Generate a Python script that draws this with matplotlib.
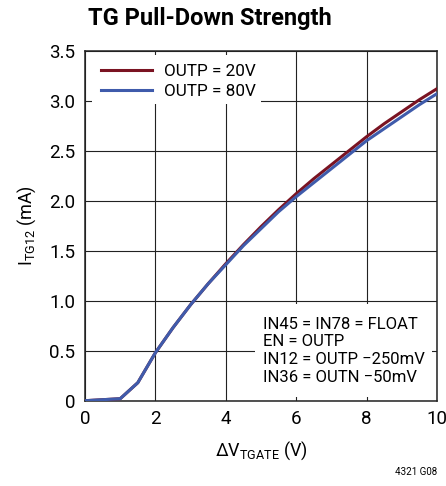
import numpy as np
import matplotlib
matplotlib.use("Agg")
import matplotlib.pyplot as plt
from matplotlib.patches import Rectangle

plt.rcParams['font.family'] = ['Roboto', 'DejaVu Sans']
plt.rcParams['mathtext.default'] = 'regular'

# podatki odčitani s slike
v_tgate = [0, 0.5, 1, 1.5, 2, 2.5, 3, 3.5, 4, 4.5, 5, 5.5, 6, 6.5, 7, 7.5, 8, 8.5, 9, 9.5, 10]
i_20v = [0, 0.01, 0.02, 0.18, 0.48, 0.73, 0.96, 1.17, 1.37, 1.56, 1.74, 1.91, 2.07,
         2.22, 2.36, 2.50, 2.64, 2.77, 2.89, 3.01, 3.12]
i_80v = [0, 0.01, 0.02, 0.18, 0.48, 0.73, 0.96, 1.17, 1.36, 1.55, 1.72, 1.89, 2.04,
         2.18, 2.32, 2.46, 2.60, 2.72, 2.84, 2.96, 3.07]
oznake = ["OUTP = 20V", "OUTP = 80V"]
pogoji = ["IN45 = IN78 = FLOAT", "EN = OUTP", "IN12 = OUTP \u2212250mV", "IN36 = OUTN \u221250mV"]

RDECA = "#7a1322"
MODRA = "#3f5bab"

fig = plt.figure(figsize=(4.46, 4.86), dpi=100)
ax = fig.add_axes([0.1906, 0.1755, 0.7892, 0.7202])

ax.set_axisbelow(True)
ax.grid(True, color="#222222", lw=0.8)
ax.plot(v_tgate, i_20v, color=RDECA, lw=2.2, label=oznake[0], zorder=3)
ax.plot(v_tgate, i_80v, color=MODRA, lw=2.2, label=oznake[1], zorder=4)

ax.set_xlim(0, 10)
ax.set_ylim(0, 3.5)
ax.set_xticks(np.arange(0, 11, 2))
ax.set_yticks(np.arange(0, 3.6, 0.5))
ax.set_xticklabels([str(x) for x in range(0, 11, 2)])
ax.set_yticklabels(["0"] + [f"{y:.1f}" for y in np.arange(0.5, 3.6, 0.5)])
ax.tick_params(length=0, pad=7, labelsize=13.5)
for s in ax.spines.values():
    s.set_color("#222222")
    s.set_linewidth(1.1)

# bele ploskve za legendo in opombe
ax.add_patch(Rectangle((0.02, 0.848), 0.48, 0.14, transform=ax.transAxes,
                       facecolor="white", edgecolor="none", zorder=1))
ax.add_patch(Rectangle((0.483, 0.011), 0.502, 0.265, transform=ax.transAxes,
                       facecolor="white", edgecolor="none", zorder=1))

ax.legend(loc="upper left", bbox_to_anchor=(0.045, 0.963), frameon=False,
          borderaxespad=0, borderpad=0, handlelength=3.0, handletextpad=0.7,
          labelspacing=0.3, fontsize=12.3)

ax.text(0.505, 0.24, "\n".join(pogoji), transform=ax.transAxes, fontsize=12,
        va="top", ha="left", linespacing=1.22, zorder=5)

ax.set_xlabel(r"$\Delta$V$_{TGATE}$ (V)", fontsize=13, labelpad=8)
ax.set_ylabel(r"I$_{TG12}$ (mA)", fontsize=13, labelpad=8)

fig.text(88 / 446, 1 - 19 / 486, "TG Pull-Down Strength", fontsize=17,
         fontweight="bold", ha="left", va="center")
fig.text(437 / 446, 1 - 472 / 486, "4321 G08", fontsize=7, ha="right", va="center")

fig.savefig("out.png", dpi=100)
